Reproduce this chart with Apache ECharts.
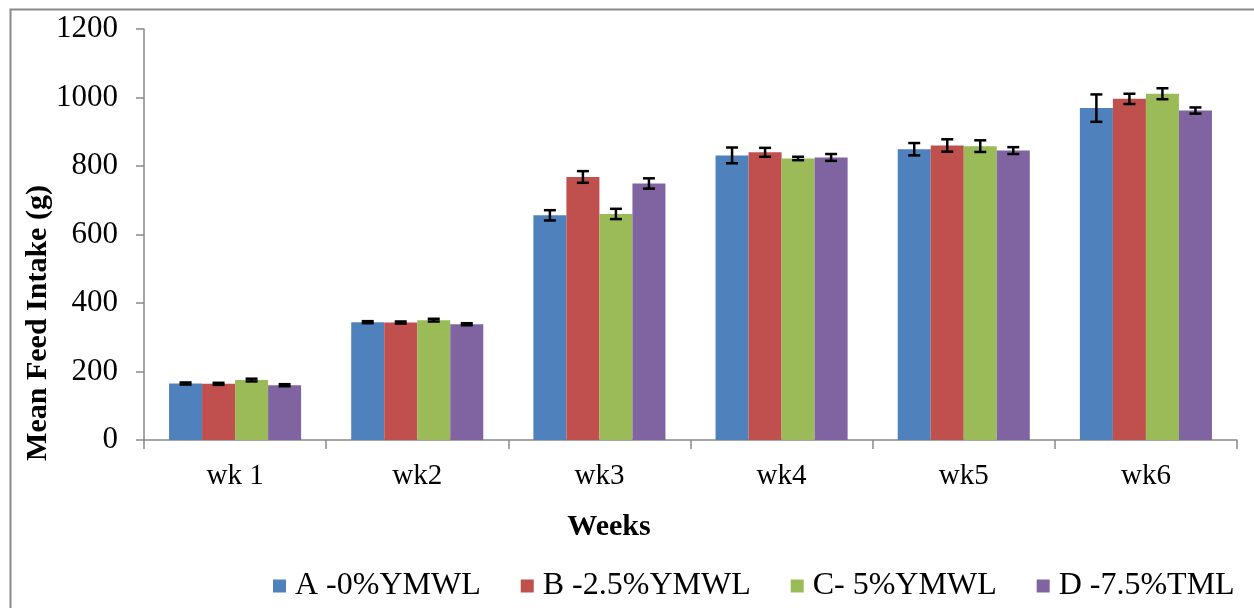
<!DOCTYPE html>
<html>
<head>
<meta charset="utf-8">
<script src="https://cdn.jsdelivr.net/npm/echarts@6/dist/echarts.min.js"></script>
<style>
  html, body { margin: 0; padding: 0; background: #fff; }
  #chart { width: 1254px; height: 608px; }
</style>
</head>
<body>
<div id="chart"></div>
<script>
var categories = ['wk 1', 'wk2', 'wk3', 'wk4', 'wk5', 'wk6'];
var seriesNames = ['A -0%YMWL', 'B -2.5%YMWL', 'C- 5%YMWL', 'D -7.5%TML'];
var valuesA = [165, 344, 656, 831, 849, 969];
var valuesB = [164, 343, 768, 840, 860, 996];
var valuesC = [175, 350, 660, 822, 858, 1011];
var valuesD = [160, 338, 749, 825, 845, 962];
var errorsA = [3, 3, 15, 23, 18, 40];
var errorsB = [3, 3, 17, 13, 18, 15];
var errorsC = [4, 4, 15, 5, 17, 16];
var errorsD = [3, 3, 15, 10, 10, 9];
var yTicks = [0, 200, 400, 600, 800, 1000, 1200];
var colors = ['#4F81BD', '#C0504D', '#9BBB59', '#8064A2'];

var allValues = [valuesA, valuesB, valuesC, valuesD];
var allErrors = [errorsA, errorsB, errorsC, errorsD];
var GAP = 0.275;
var FONT = "'Liberation Serif', 'Times New Roman', serif";
var AXIS_COLOR = '#898989';

var chart = echarts.init(document.getElementById('chart'));

function makeErrorRenderer(s) {
  return function (params, api) {
    var ci = api.value(0), v = api.value(1), e = api.value(2);
    var band = api.size([1, 0])[0];
    var bw = band * (1 - GAP) / 4;
    var c = api.coord([ci, v]);
    var x = c[0] + (-1.5 + s) * bw;
    var top = api.coord([ci, v + e])[1];
    var bot = api.coord([ci, v - e])[1];
    var half = 6;
    var st = { stroke: '#000', lineWidth: 2.5 };
    return {
      type: 'group',
      children: [
        { type: 'line', shape: { x1: x, y1: top, x2: x, y2: bot }, style: st },
        { type: 'line', shape: { x1: x - half, y1: top, x2: x + half, y2: top }, style: st },
        { type: 'line', shape: { x1: x - half, y1: bot, x2: x + half, y2: bot }, style: st }
      ]
    };
  };
}

var series = [];
for (var i = 0; i < 4; i++) {
  series.push({
    name: seriesNames[i],
    type: 'bar',
    data: allValues[i],
    barGap: '0%',
    barCategoryGap: (GAP * 100) + '%',
    itemStyle: { color: colors[i] },
    animation: false
  });
}
for (var j = 0; j < 4; j++) {
  var d = [];
  for (var k = 0; k < categories.length; k++) {
    d.push([k, allValues[j][k], allErrors[j][k]]);
  }
  series.push({
    type: 'custom',
    renderItem: makeErrorRenderer(j),
    data: d,
    z: 10,
    silent: true,
    animation: false
  });
}

chart.setOption({
  animation: false,
  backgroundColor: '#fff',
  grid: { left: 144, right: 17, top: 29, bottom: 168, containLabel: false },
  legend: {
    data: seriesNames,
    left: 268,
    top: 565,
    itemWidth: 13,
    itemHeight: 13,
    itemGap: 40,
    icon: 'rect',
    textStyle: { fontFamily: FONT, fontSize: 32, color: '#000', padding: [0, 0, 0, 4] }
  },
  xAxis: {
    type: 'category',
    data: categories,
    axisLine: { lineStyle: { color: AXIS_COLOR, width: 1.5 } },
    axisTick: { show: true, length: 9, alignWithLabel: false, lineStyle: { color: AXIS_COLOR, width: 1.5 } },
    axisLabel: { fontFamily: FONT, fontSize: 29, color: '#000', margin: 22 }
  },
  yAxis: {
    type: 'value',
    min: 0,
    max: 1200,
    interval: 200,
    axisLine: { show: true, lineStyle: { color: AXIS_COLOR, width: 1.5 } },
    axisTick: { show: true, length: 8, lineStyle: { color: AXIS_COLOR, width: 1.5 } },
    splitLine: { show: false },
    axisLabel: {
      fontFamily: FONT, fontSize: 31, color: '#000', margin: 26,
      formatter: function (v) { return yTicks.indexOf(v) >= 0 ? String(v) : ''; }
    }
  },
  graphic: [
    {
      type: 'rect',
      shape: { x: 10.5, y: 9.5, width: 1300, height: 700 },
      style: { fill: 'none', stroke: AXIS_COLOR, lineWidth: 2 },
      silent: true
    },
    {
      type: 'text',
      x: 38, y: 323,
      rotation: Math.PI / 2,
      style: {
        text: 'Mean Feed Intake (g)',
        font: "bold 30px 'Liberation Serif', 'Times New Roman', serif",
        fill: '#000',
        textAlign: 'center',
        textVerticalAlign: 'middle'
      }
    },
    {
      type: 'text',
      x: 609, y: 527,
      style: {
        text: 'Weeks',
        font: "bold 30px 'Liberation Serif', 'Times New Roman', serif",
        fill: '#000',
        textAlign: 'center',
        textVerticalAlign: 'middle'
      }
    }
  ],
  series: series
});
</script>
</body>
</html>
